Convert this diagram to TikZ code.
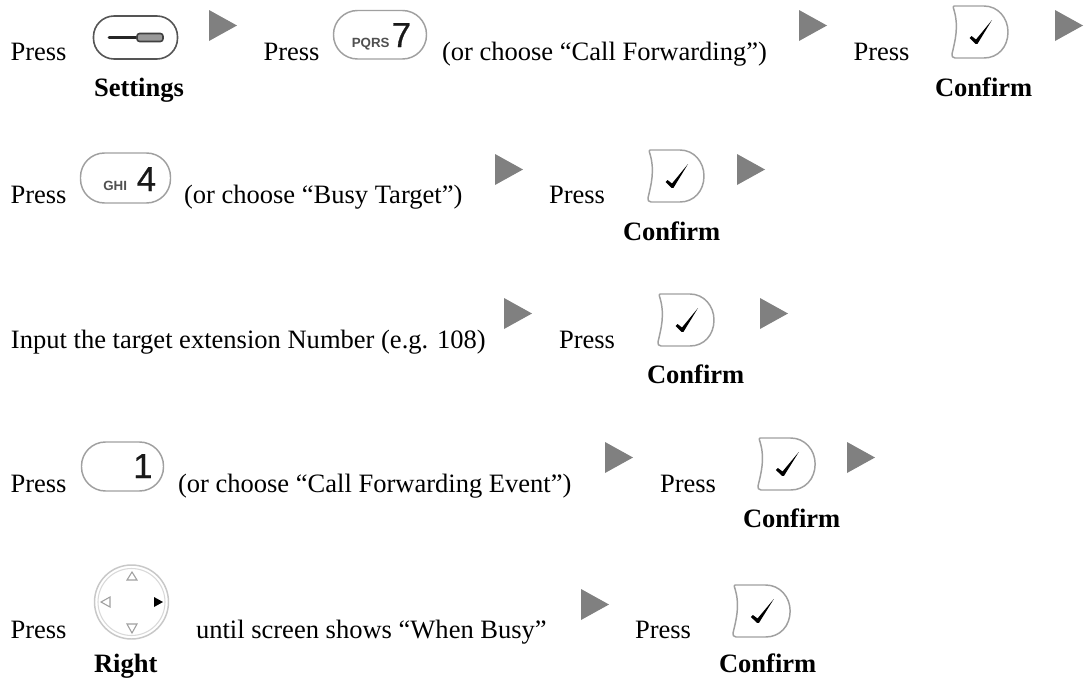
\documentclass[tikz,border=0pt]{standalone}
\usepackage{fontspec}
\setmainfont{Liberation Serif}
\newfontfamily\keyfont{Liberation Sans}
\newfontfamily\digitfont[FakeBold=0.6]{Liberation Sans}
\definecolor{arrowgrey}{HTML}{808080}
\definecolor{rimgrey}{HTML}{A0A0A0}
\definecolor{darkrim}{HTML}{555555}
\definecolor{dialgrey}{HTML}{C8C8C8}
\definecolor{letgrey}{HTML}{505050}
\tikzset{
  lbl/.style={anchor=base west,inner sep=0pt,outer sep=0pt,font=\fontsize{19.9pt}{22pt}\selectfont,text=black},
  blbl/.style={lbl,font=\fontsize{19.9pt}{22pt}\selectfont\bfseries},
  digit/.style={anchor=base west,inner sep=0pt,font=\digitfont\fontsize{26pt}{28pt}\selectfont,text=black!90},
  letters/.style={anchor=base west,inner sep=0pt,font=\keyfont\bfseries\fontsize{10pt}{11pt}\selectfont,text=letgrey},
  keyrim/.style={draw=rimgrey,line width=1.1pt,fill=white},
  flowarrow/.style={fill=arrowgrey,draw=none},
  dialtri/.style={draw=rimgrey,line width=0.8pt,line join=miter},
}
% flow arrow: left x, top y
\newcommand{\flowarr}[2]{\fill[flowarrow] (#1,#2) -- (#1,#2+31) -- (#1+28,#2+15.5) -- cycle;}
% confirm key: left x, top y, x-scale
\newcommand{\confirmkey}[3]{%
  \begin{scope}[shift={(#1,#2)},xscale=#3]
    \draw[keyrim,line join=round] (3,1) .. controls (6,1) and (20,1) .. (33,1)
      .. controls (47,1) and (57,13) .. (57,27)
      .. controls (57,42) and (47,53) .. (33,53)
      -- (4,53) .. controls (1,53) and (1,51) .. (1,49)
      .. controls (4,36) and (8,22) .. (3,5)
      .. controls (2,2) and (2,1) .. (3,1) -- cycle;
    \fill[black] (18.5,33) -- (20.5,31) -- (25,34.5) -- (41,15) -- (26.5,38.8) -- (24.5,38.8) -- cycle;
  \end{scope}}
\begin{document}
\begin{tikzpicture}[x=0.75pt,y=-0.75pt]
\useasboundingbox (0,0) rectangle (1086,682);
\fill[white] (0,0) rectangle (1086,682);

% ---------- Row 1
\node[lbl] (r1p1) at (10.5,60) {Press};
\draw[draw=darkrim,line width=1.2pt,rounded corners=15.5pt] (93.5,16) rectangle (177.5,59);
\draw[black!85,line width=1.9pt,line cap=round] (109,37.5) -- (137,37.5);
\draw[black!75,line width=1.2pt,fill=black!40,rounded corners=2pt] (137,33.5) rectangle (163,41.5);
\node[blbl] (r1set) at (94,96) {Settings};
\flowarr{209}{10}
\node[lbl] (r1p2) at (263.5,60) {Press};
\draw[keyrim,rounded corners=18pt] (333.5,10.5) rectangle (426.5,59);
\node[letters] (r1pqrs) at (351.5,47) {PQRS};
\node[digit] (r1seven) at (391.5,47) {7};
\node[lbl] (r1or) at (442,60) {(or choose “Call Forwarding”)};
\flowarr{799}{10}
\node[lbl] (r1p3) at (853.5,60) {Press};
\confirmkey{951}{5}{1}
\flowarr{1055}{10}
\node[blbl] (r1conf) at (935,96) {Confirm};

% ---------- Row 2
\node[lbl] (r2p1) at (10.5,203) {Press};
\draw[keyrim,rounded corners=18pt] (80.5,153) rectangle (170.5,203);
\node[letters] (r2ghi) at (103,190) {GHI};
\node[digit] (r2four) at (136.5,191) {4};
\node[lbl] (r2or) at (184,203) {(or choose “Busy Target”)};
\flowarr{495}{154}
\node[lbl] (r2p2) at (549,203) {Press};
\confirmkey{647}{149}{1}
\flowarr{737}{154}
\node[blbl] (r2conf) at (623,240) {Confirm};

% ---------- Row 3
\node[lbl] (r3in) at (11,348) {Input the target extension Number (e.g. 108)};
\flowarr{504}{298}
\node[lbl] (r3p) at (559,348) {Press};
\confirmkey{657}{293}{1}
\flowarr{760}{298}
\node[blbl] (r3conf) at (647,383) {Confirm};

% ---------- Row 4
\node[lbl] (r4p1) at (10.5,492) {Press};
\draw[keyrim,rounded corners=18pt] (81.5,442) rectangle (163.5,491);
\node[digit] (r4one) at (133,478) {1};
\node[lbl] (r4or) at (178,492) {(or choose “Call Forwarding Event”)};
\flowarr{605}{442}
\node[lbl] (r4p2) at (660,492) {Press};
\confirmkey{757}{437}{1.02}
\flowarr{847}{442}
\node[blbl] (r4conf) at (743,527) {Confirm};

% ---------- Row 5
\node[lbl] (r5p1) at (10.5,638) {Press};
\draw[draw=dialgrey,line width=1.1pt] (131.5,602) circle [radius=37];
\draw[draw=dialgrey!70,line width=0.8pt] (131.5,602) circle [radius=33.5];
\draw[dialtri] (127,580) -- (137,580) -- (132,572) -- cycle;
\draw[dialtri] (110,597) -- (110,607) -- (101,602) -- cycle;
\draw[dialtri] (127,624) -- (137,624) -- (132,633) -- cycle;
\fill[black] (154,597) -- (154,607) -- (163,602) -- cycle;
\node[blbl] (r5right) at (94,672) {Right};
\node[lbl] (r5until) at (196,638.5) {until screen shows “When Busy”};
\flowarr{581}{589}
\node[lbl] (r5p2) at (635,638.5) {Press};
\confirmkey{732}{584}{1.02}
\node[blbl] (r5conf) at (719,672) {Confirm};
\end{tikzpicture}
\end{document}
